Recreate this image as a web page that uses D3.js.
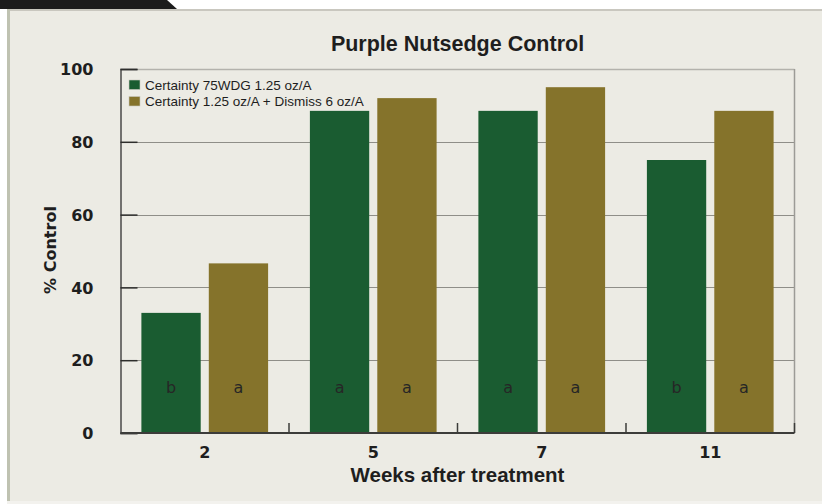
<!DOCTYPE html>
<html>
<head>
<meta charset="utf-8">
<script src="https://cdn.jsdelivr.net/npm/d3@7"></script>
<style>
  html, body { margin: 0; padding: 0; background: #ffffff; }
  svg { display: block; }
</style>
</head>
<body>
<svg id="chart" width="822" height="504"></svg>
<script>
// ---- data ----
const categories = ["2", "5", "7", "11"];
const seriesNames = ["Certainty 75WDG 1.25 oz/A", "Certainty 1.25 oz/A + Dismiss 6 oz/A"];
const certainty = [33, 88.5, 88.5, 75];
const certaintyDismiss = [46.6, 92, 95, 88.5];
const lettersCertainty = ["b", "a", "a", "b"];
const lettersCertaintyDismiss = ["a", "a", "a", "a"];
const yTicks = [0, 20, 40, 60, 80, 100];

const colors = ["#1a5c31", "#85732b"];
const series = [
  { name: seriesNames[0], values: certainty, letters: lettersCertainty },
  { name: seriesNames[1], values: certaintyDismiss, letters: lettersCertaintyDismiss }
];

const svg = d3.select("#chart");
const W = 822, H = 504;

// ---- frame ----
svg.append("rect").attr("x", 0).attr("y", 0).attr("width", W).attr("height", H).attr("fill", "#ffffff");
svg.append("rect").attr("x", 7).attr("y", 9).attr("width", W - 7).attr("height", H - 9).attr("fill", "#ecebe4");
svg.append("path").attr("d", "M0,0 L167,0 L177,9 L0,9 Z").attr("fill", "#1c1c1c");
svg.append("rect").attr("x", 7).attr("y", 9).attr("width", W - 7).attr("height", 2).attr("fill", "#c9c7bf");
svg.append("rect").attr("x", 7).attr("y", 9).attr("width", 3).attr("height", H - 9).attr("fill", "#bfc2b1");
svg.append("rect").attr("x", 7).attr("y", 501).attr("width", W - 7).attr("height", 3).attr("fill", "#f3f2ee");

// ---- plot geometry ----
const pLeft = 120.5, pRight = 794.5, pTop = 69, pBottom = 433;

const x0 = d3.scaleBand().domain(categories).range([pLeft, pRight]).paddingInner(0).paddingOuter(0);
const x1 = d3.scaleBand().domain([0, 1]).range([0, x0.bandwidth()]).paddingInner(0.12).paddingOuter(0.31);
const y = d3.scaleLinear().domain([0, 100]).range([pBottom, pTop]);

// gridlines
svg.append("g").selectAll("line").data(yTicks.filter(d => d > 0 && d < 100)).join("line")
  .attr("x1", pLeft).attr("x2", pRight)
  .attr("y1", d => Math.round(y(d)) + 0.5).attr("y2", d => Math.round(y(d)) + 0.5)
  .attr("stroke", "#8f8e88").attr("stroke-width", 1.2);

// box top/right
svg.append("line").attr("x1", pLeft).attr("x2", pRight).attr("y1", pTop + 0.5).attr("y2", pTop + 0.5)
  .attr("stroke", "#b3b2ac").attr("stroke-width", 1.5);
svg.append("line").attr("x1", pRight).attr("x2", pRight).attr("y1", pTop).attr("y2", pBottom)
  .attr("stroke", "#9c9b96").attr("stroke-width", 1.5);

// bars
const groups = svg.append("g").selectAll("g").data(categories).join("g")
  .attr("transform", d => `translate(${x0(d)},0)`);

groups.selectAll("rect").data((d, i) => series.map((s, j) => ({ j, v: s.values[i], l: s.letters[i] })))
  .join("rect")
  .attr("x", d => x1(d.j)).attr("width", x1.bandwidth())
  .attr("y", d => y(d.v)).attr("height", d => y(0) - y(d.v))
  .attr("fill", d => colors[d.j]);

groups.selectAll("text").data((d, i) => series.map((s, j) => ({ j, l: s.letters[i] })))
  .join("text")
  .attr("x", d => x1(d.j) + x1.bandwidth() / 2)
  .attr("y", y(0) - 40)
  .attr("text-anchor", "middle")
  .attr("font-family", "'DejaVu Sans', sans-serif")
  .attr("font-size", 16)
  .attr("fill", "#262626")
  .text(d => d.l);

// y axis
const yAxis = d3.axisLeft(y).tickValues(yTicks).tickSize(-17).tickPadding(27).tickFormat(d3.format("d"));
const yg = svg.append("g").attr("transform", `translate(${pLeft},0)`).call(yAxis);
yg.select(".domain").attr("stroke", "#4a4a48").attr("stroke-width", 1.5);
yg.selectAll(".tick line").attr("stroke", "#2e2e2c").attr("stroke-width", 1.5);
yg.selectAll(".tick text").attr("font-family", "'DejaVu Sans', sans-serif").attr("font-weight", "bold")
  .attr("font-size", 16).attr("fill", "#1e1e1e").attr("dy", "0.36em");

// x axis
const xAxis = d3.axisBottom(x0).tickSize(0).tickPadding(14);
const xg = svg.append("g").attr("transform", `translate(0,${pBottom})`).call(xAxis);
xg.select(".domain").remove();
xg.selectAll(".tick text").attr("font-family", "'DejaVu Sans', sans-serif").attr("font-weight", "bold")
  .attr("font-size", 16).attr("fill", "#1e1e1e");
svg.append("line").attr("x1", pLeft).attr("x2", pRight).attr("y1", pBottom).attr("y2", pBottom)
  .attr("stroke", "#3c3c3a").attr("stroke-width", 2);
// category separators
const seps = categories.slice(1).map(c => x0(c)).concat([pRight]);
svg.append("g").selectAll("line").data(seps).join("line")
  .attr("x1", d => d).attr("x2", d => d).attr("y1", pBottom).attr("y2", pBottom - 10)
  .attr("stroke", "#3c3c3a").attr("stroke-width", 1.5);

// titles
svg.append("text").attr("x", (pLeft + pRight) / 2).attr("y", 51)
  .attr("text-anchor", "middle").attr("font-family", "'Liberation Sans', Arial, sans-serif")
  .attr("font-weight", "bold").attr("font-size", 21.5).attr("fill", "#1e1e1e")
  .text("Purple Nutsedge Control");

svg.append("text").attr("x", (pLeft + pRight) / 2).attr("y", 481.5)
  .attr("text-anchor", "middle").attr("font-family", "'Liberation Sans', Arial, sans-serif")
  .attr("font-weight", "bold").attr("font-size", 20.5).attr("fill", "#1e1e1e")
  .text("Weeks after treatment");

svg.append("text").attr("transform", `translate(56,250) rotate(-90)`)
  .attr("text-anchor", "middle").attr("font-family", "'DejaVu Sans', sans-serif")
  .attr("font-weight", "bold").attr("font-size", 16).attr("fill", "#1e1e1e")
  .text("% Control");

// legend
const lg = svg.append("g").selectAll("g").data(series).join("g")
  .attr("transform", (d, i) => `translate(129,${80 + i * 16.5})`);
lg.append("rect").attr("width", 11).attr("height", 9.5).attr("fill", (d, i) => colors[i])
  .attr("stroke", "#c9c8c0").attr("stroke-width", 0.6);
lg.append("text").attr("x", 16).attr("y", 9.8)
  .attr("font-family", "'Liberation Sans Narrow', 'Arial Narrow', sans-serif")
  .attr("font-stretch", "condensed")
  .attr("font-size", 13.5).attr("fill", "#1e1e1e")
  .text(d => d.name);
</script>
</body>
</html>
